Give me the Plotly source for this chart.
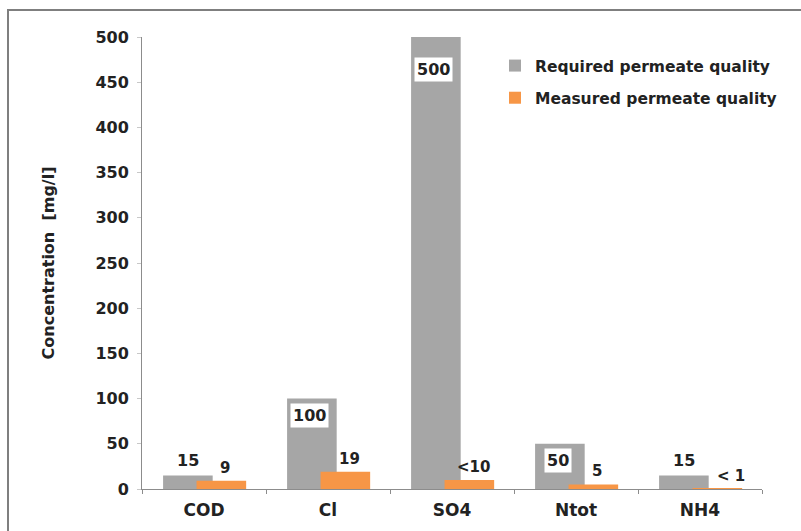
import plotly.graph_objects as go

# Permeate quality per parameter [mg/l]
categories = ["COD", "Cl", "SO4", "Ntot", "NH4"]
tick_labels = ["COD", "Cl", "SO4", "Ntot", "NH4"]
required = [15, 100, 500, 50, 15]
measured = [9, 19, 10, 5, 0.5]
required_labels = ["15", "100", "500", "50", "15"]
measured_labels = ["9", "19", "<10", "5", "< 1"]
required_boxed = [False, True, True, True, False]

GRAY = "#a6a6a6"
ORANGE = "#f79646"
FONT = "DejaVu Sans, Arial, sans-serif"
TXT = "#222222"

W, H = 801, 531
L, R, T, B = 142, 39, 37, 42
plot_w = W - L - R
plot_h = H - T - B
cat_px = plot_w / len(categories)

bar_w = 0.40
gray_off = -0.33
orange_off = -0.06


def bold(size):
    return dict(family=FONT, size=size, color=TXT, weight="bold")


fig = go.Figure()
fig.add_trace(go.Bar(
    x=categories, y=required, name="Required permeate quality",
    marker=dict(color=GRAY, line=dict(width=0)),
    width=bar_w, offset=gray_off, legendgroup="req",
))
fig.add_trace(go.Bar(
    x=categories, y=measured, name="Measured permeate quality",
    marker=dict(color=ORANGE, line=dict(width=0)),
    width=bar_w, offset=orange_off, legendgroup="meas",
))

annotations = []
gray_shift = (gray_off + bar_w / 2) * cat_px
orange_shift = (orange_off + bar_w / 2) * cat_px
for i, cat in enumerate(categories):
    if required_boxed[i]:
        drop = -20 if required[i] >= 400 else -4
        annotations.append(dict(
            x=cat, y=required[i], text=required_labels[i], showarrow=False,
            xshift=gray_shift - 2, yshift=drop, yanchor="top",
            bgcolor="white", borderpad=2, font=bold(16),
        ))
    else:
        annotations.append(dict(
            x=cat, y=required[i], text=required_labels[i], showarrow=False,
            xshift=gray_shift, yshift=3, yanchor="bottom", font=bold(16),
        ))
    extra = 14 if measured[i] < 1 else 4
    annotations.append(dict(
        x=cat, y=measured[i], text=measured_labels[i], showarrow=False,
        xshift=orange_shift + extra, yshift=2, yanchor="bottom", font=bold(15),
    ))

fig.update_layout(
    width=W, height=H,
    margin=dict(l=L, r=R, t=T, b=B, pad=0, autoexpand=False),
    paper_bgcolor="white", plot_bgcolor="white",
    barmode="overlay",
    showlegend=True,
    legend=dict(
        x=(495 - L) / plot_w, y=(489 - 49) / plot_h,
        xanchor="left", yanchor="top",
        font=bold(15.5),
        tracegroupgap=9, bgcolor="rgba(0,0,0,0)",
    ),
    xaxis=dict(
        type="category", tickvals=categories, ticktext=tick_labels,
        showline=True, linecolor="#8c8c8c", linewidth=1,
        ticks="outside", tickson="boundaries", ticklen=4, tickcolor="#8c8c8c",
        ticklabelstandoff=6, automargin=False,
        tickfont=bold(17),
        showgrid=False, zeroline=False,
    ),
    yaxis=dict(
        range=[0, 500], dtick=50,
        showline=True, linecolor="#8c8c8c", linewidth=1,
        ticks="outside", ticklen=4, tickcolor="#c8c8c8",
        ticklabelstandoff=5, automargin=False,
        tickfont=bold(16),
        showgrid=False, zeroline=False,
        title=dict(text="Concentration  [mg/l]", standoff=36, font=bold(16)),
    ),
    annotations=annotations,
    shapes=[dict(
        type="rect", xref="paper", yref="paper",
        x0=(8 - L) / plot_w, x1=1.3,
        y0=-0.3, y1=(489 - 10) / plot_h,
        line=dict(color="#7f7f7f", width=2), fillcolor="rgba(0,0,0,0)",
        layer="below",
    )],
)

fig.write_html("out.html")
